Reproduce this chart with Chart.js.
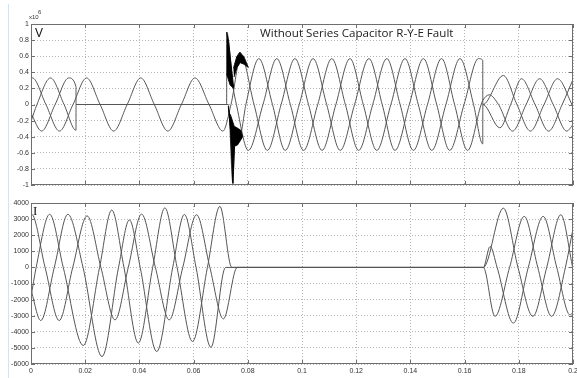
<!DOCTYPE html>
<html>
<head>
<meta charset="utf-8">
<script src="https://cdn.jsdelivr.net/npm/chart.js@4.4.1/dist/chart.umd.min.js"></script>
<style>
    html, body { margin: 0; padding: 0; background: #fff; }
    #wrap { position: relative; width: 577px; height: 378px; overflow: hidden; background: #fff; }
    #voltChart { position: absolute; left: 0; top: 0; }
    #currChart { position: absolute; left: 0; top: 192px; }
    .edge { position: absolute; left: 8px; top: 4px; width: 1px; height: 374px; background: #d5e3ef; }
</style>
</head>
<body>
<div id="wrap">
    <div class="edge"></div>
    <canvas id="voltChart" width="577" height="192"></canvas>
    <canvas id="currChart" width="577" height="186"></canvas>
</div>
<script>
// tick labels
var timeTicks = [0, 0.02, 0.04, 0.06, 0.08, 0.1, 0.12, 0.14, 0.16, 0.18, 0.2];
var voltTicks = [-1, -0.8, -0.6, -0.4, -0.2, 0, 0.2, 0.4, 0.6, 0.8, 1];
var currTicks = [-6000, -5000, -4000, -3000, -2000, -1000, 0, 1000, 2000, 3000, 4000];

// voltage (x10^6), [time s, value]: peaks, troughs, zero crossings
var vPhaseA = [[0, 0.32], [0.0005, 0.33], [0.0055, 0], [0.0105, -0.33], [0.0155, 0], [0.0205, 0.33], [0.0255, 0],
    [0.0305, -0.33], [0.0355, 0], [0.0405, 0.33], [0.0455, 0], [0.0505, -0.33], [0.0555, 0], [0.0605, 0.33],
    [0.0657, 0], [0.0708, -0.33], [0.0738, 0], [0.0775, 0.60], [0.0823, 0], [0.0872, -0.57], [0.0923, 0],
    [0.0974, 0.57], [0.1024, 0], [0.1074, -0.57], [0.1125, 0], [0.1177, 0.57], [0.1226, 0], [0.1276, -0.57],
    [0.1328, 0], [0.1380, 0.57], [0.1429, 0], [0.1479, -0.57], [0.1531, 0], [0.1583, 0.57], [0.1633, 0],
    [0.1667, -0.49], [0.16672, 0], [0.1730, -0.29], [0.1770, 0], [0.1810, 0.32], [0.1860, 0], [0.1910, -0.33],
    [0.1960, 0], [0.2, 0.31]];
var vPhaseB = [[0, -0.21], [0.0022, 0], [0.0072, 0.33], [0.0122, 0], [0.0166, -0.32], [0.01662, 0], [0.0722, 0],
    [0.07222, 0.90], [0.0746, 0.21], [0.0758, 0], [0.0802, -0.57], [0.0856, 0], [0.0907, 0.57], [0.0957, 0],
    [0.1006, -0.57], [0.1058, 0], [0.1110, 0.57], [0.1160, 0], [0.1209, -0.57], [0.1261, 0], [0.1313, 0.57],
    [0.1362, 0], [0.1411, -0.57], [0.1463, 0], [0.1515, 0.57], [0.1563, 0], [0.1611, -0.57], [0.1661, 0],
    [0.1667, 0.05], [0.1691, 0.12], [0.1725, 0], [0.1777, -0.33], [0.1827, 0], [0.1877, 0.32], [0.1927, 0],
    [0.1977, -0.33], [0.2, -0.25]];
var vPhaseC = [[0, -0.11], [0.0039, -0.33], [0.0089, 0], [0.0139, 0.33], [0.0166, 0.22], [0.01662, 0], [0.0728, 0],
    [0.0745, -0.98], [0.0752, -0.42], [0.0770, -0.40], [0.0793, 0], [0.0841, 0.57], [0.0891, 0], [0.0938, -0.57],
    [0.0990, 0], [0.1041, 0.57], [0.1091, 0], [0.1141, -0.57], [0.1194, 0], [0.1247, 0.57], [0.1296, 0],
    [0.1343, -0.57], [0.1396, 0], [0.1448, 0.57], [0.1497, 0], [0.1545, -0.57], [0.1598, 0], [0.1651, 0.57],
    [0.1667, 0.55], [0.16672, 0], [0.1743, 0.36], [0.1793, 0], [0.1843, -0.33], [0.1893, 0], [0.1943, 0.32],
    [0.1996, 0], [0.2, -0.03]];

// high frequency burst at breaker opening, outlines of the black areas
var burstUp = [[0.0722, 0.90], [0.0729, 0.78], [0.0748, 0.20], [0.0735, 0.24], [0.0722, 0.38]];
var burstLobe = [[0.0747, 0.45], [0.0760, 0.60], [0.0771, 0.65], [0.0786, 0.59], [0.0802, 0.46], [0.0786, 0.50],
    [0.0772, 0.52], [0.0760, 0.46], [0.0749, 0.34]];
var burstDown = [[0.0728, -0.02], [0.0736, -0.32], [0.0745, -0.98], [0.0751, -0.52], [0.0763, -0.50],
    [0.0781, -0.40], [0.0774, -0.32], [0.0760, -0.29], [0.0750, -0.27], [0.0735, -0.12]];

// current (A)
var iPhaseA = [[0, 3280], [0.0002, 3300], [0.0052, 0], [0.0104, -3300], [0.0154, 0], [0.0207, 3200], [0.0258, 0],
    [0.0310, -3260], [0.0359, 0], [0.0408, 3310], [0.0459, 0], [0.0510, -3260], [0.0560, 0], [0.0611, 3270],
    [0.0660, 0], [0.0710, -3200], [0.0761, 0], [0.1669, 0], [0.1694, 1300], [0.1720, 0], [0.1780, -3460],
    [0.1835, 0], [0.1890, 3170], [0.1940, 0], [0.1989, -2950], [0.2, -2800]];
var iPhaseB = [[0, -1850], [0.0019, 0], [0.0069, 3300], [0.0119, 0], [0.0193, -4850], [0.0253, 0], [0.0298, 3560],
    [0.0343, 0], [0.0396, -4700], [0.0449, 0], [0.0494, 3700], [0.0539, 0], [0.0596, -4600], [0.0651, 0],
    [0.0697, 3790], [0.0741, 0], [0.1669, 0], [0.1743, 3680], [0.1797, 0], [0.1852, -3040], [0.1903, 0],
    [0.1955, 3270], [0.2, -100]];
var iPhaseC = [[0, -1400], [0.0036, -3300], [0.0086, 0], [0.0136, 3300], [0.0192, 0], [0.0262, -5540], [0.0323, 0],
    [0.0363, 2950], [0.0403, 0], [0.0464, -5230], [0.0523, 0], [0.0566, 3290], [0.0609, 0], [0.0664, -4970],
    [0.0718, 0], [0.1669, 0], [0.1712, -3040], [0.1766, 0], [0.1820, 3170], [0.1870, 0], [0.1921, -3040],
    [0.1972, 0], [0.2, 2400]];

var toPoints = function (pairs) {
    return pairs.map(function (p) { return { x: p[0], y: p[1] }; });
};

var waveSet = function (pairs) {
    return {
        data: toPoints(pairs),
        borderColor: '#555',
        borderWidth: 1,
        pointRadius: 0,
        fill: false,
        cubicInterpolationMode: 'monotone'
    };
};

var burstSet = function (pairs) {
    return {
        data: toPoints(pairs),
        borderColor: '#000',
        backgroundColor: '#000',
        borderWidth: 1,
        pointRadius: 0,
        tension: 0.01,
        fill: 'shape'
    };
};

// MATLAB style box, inward ticks and the free texts
var framePlugin = {
    id: 'frame',
    afterDraw: function (chart, args, opts) {
        var ctx = chart.ctx;
        var a = chart.chartArea;
        var xs = chart.scales.x;
        var ys = chart.scales.y;
        ctx.save();
        ctx.strokeStyle = '#6e6e6e';
        ctx.lineWidth = 1;
        ctx.strokeRect(a.left + 0.5, a.top + 0.5, a.right - a.left - 1, a.bottom - a.top - 1);
        ctx.beginPath();
        timeTicks.forEach(function (t) {
            var px = Math.round(xs.getPixelForValue(t)) + 0.5;
            ctx.moveTo(px, a.bottom); ctx.lineTo(px, a.bottom - 4);
            ctx.moveTo(px, a.top); ctx.lineTo(px, a.top + 4);
        });
        opts.yTicks.forEach(function (v) {
            var py = Math.round(ys.getPixelForValue(v)) + 0.5;
            ctx.moveTo(a.left, py); ctx.lineTo(a.left + 4, py);
            ctx.moveTo(a.right, py); ctx.lineTo(a.right - 4, py);
        });
        ctx.stroke();
        (opts.texts || []).forEach(function (t) {
            ctx.font = t.font;
            ctx.fillStyle = t.color;
            ctx.textBaseline = 'alphabetic';
            ctx.textAlign = 'left';
            ctx.fillText(t.text, t.x, t.y);
        });
        ctx.restore();
    }
};

var buildOptions = function (yTicks, yMin, yMax, showTimeLabels, yLabel, topPad, xHeight, texts) {
    var tickFont = { family: 'Liberation Sans', size: 7 };
    return {
        responsive: false,
        animation: false,
        layout: { padding: { top: topPad, right: 4, left: 0, bottom: 0 } },
        plugins: {
            legend: { display: false },
            tooltip: { enabled: false },
            frame: { yTicks: yTicks, texts: texts }
        },
        scales: {
            x: {
                type: 'linear',
                min: 0,
                max: 0.2,
                afterBuildTicks: function (s) { s.ticks = timeTicks.map(function (v) { return { value: v }; }); },
                afterFit: function (s) { s.height = xHeight; s.paddingLeft = 0; s.paddingRight = 0; },
                ticks: {
                    display: showTimeLabels,
                    autoSkip: false,
                    maxRotation: 0,
                    padding: 3,
                    color: '#333',
                    font: tickFont,
                    callback: function (v) { return String(Number(v.toFixed(2))); }
                },
                grid: { color: '#b4b4b4', lineWidth: 1, drawTicks: false },
                border: { display: false, dash: [1, 2] }
            },
            y: {
                type: 'linear',
                min: yMin,
                max: yMax,
                afterBuildTicks: function (s) { s.ticks = yTicks.map(function (v) { return { value: v }; }); },
                afterFit: function (s) { s.width = 31; s.paddingTop = 0; s.paddingBottom = 0; },
                ticks: {
                    autoSkip: false,
                    padding: 2,
                    color: '#333',
                    font: tickFont,
                    callback: yLabel
                },
                grid: { color: '#b4b4b4', lineWidth: 1, drawTicks: false },
                border: { display: false, dash: [1, 2] }
            }
        }
    };
};

var voltChart = new Chart(document.getElementById('voltChart'), {
    type: 'line',
    data: {
        datasets: [
            burstSet(burstUp), burstSet(burstLobe), burstSet(burstDown),
            waveSet(vPhaseA), waveSet(vPhaseB), waveSet(vPhaseC)
        ]
    },
    options: buildOptions(voltTicks, -1, 1, false,
        function (v) { return String(Math.round(v * 10) / 10); }, 24, 7, [
            { text: 'x10', x: 29, y: 19, font: '6px Liberation Sans', color: '#333' },
            { text: '6', x: 38, y: 14, font: '6px Liberation Sans', color: '#333' },
            { text: 'V', x: 35, y: 37, font: '12px Liberation Sans', color: '#111' },
            { text: 'Without Series Capacitor R-Y-E Fault', x: 260, y: 37, font: '11.6px Open Sans', color: '#222' }
        ]),
    plugins: [framePlugin]
});

var currChart = new Chart(document.getElementById('currChart'), {
    type: 'line',
    data: {
        datasets: [waveSet(iPhaseA), waveSet(iPhaseB), waveSet(iPhaseC)]
    },
    options: buildOptions(currTicks, -6000, 4000, true,
        function (v) { return String(v); }, 11, 14, [
            { text: 'I', x: 33, y: 23, font: '13px Liberation Serif', color: '#111' }
        ]),
    plugins: [framePlugin]
});
</script>
</body>
</html>
